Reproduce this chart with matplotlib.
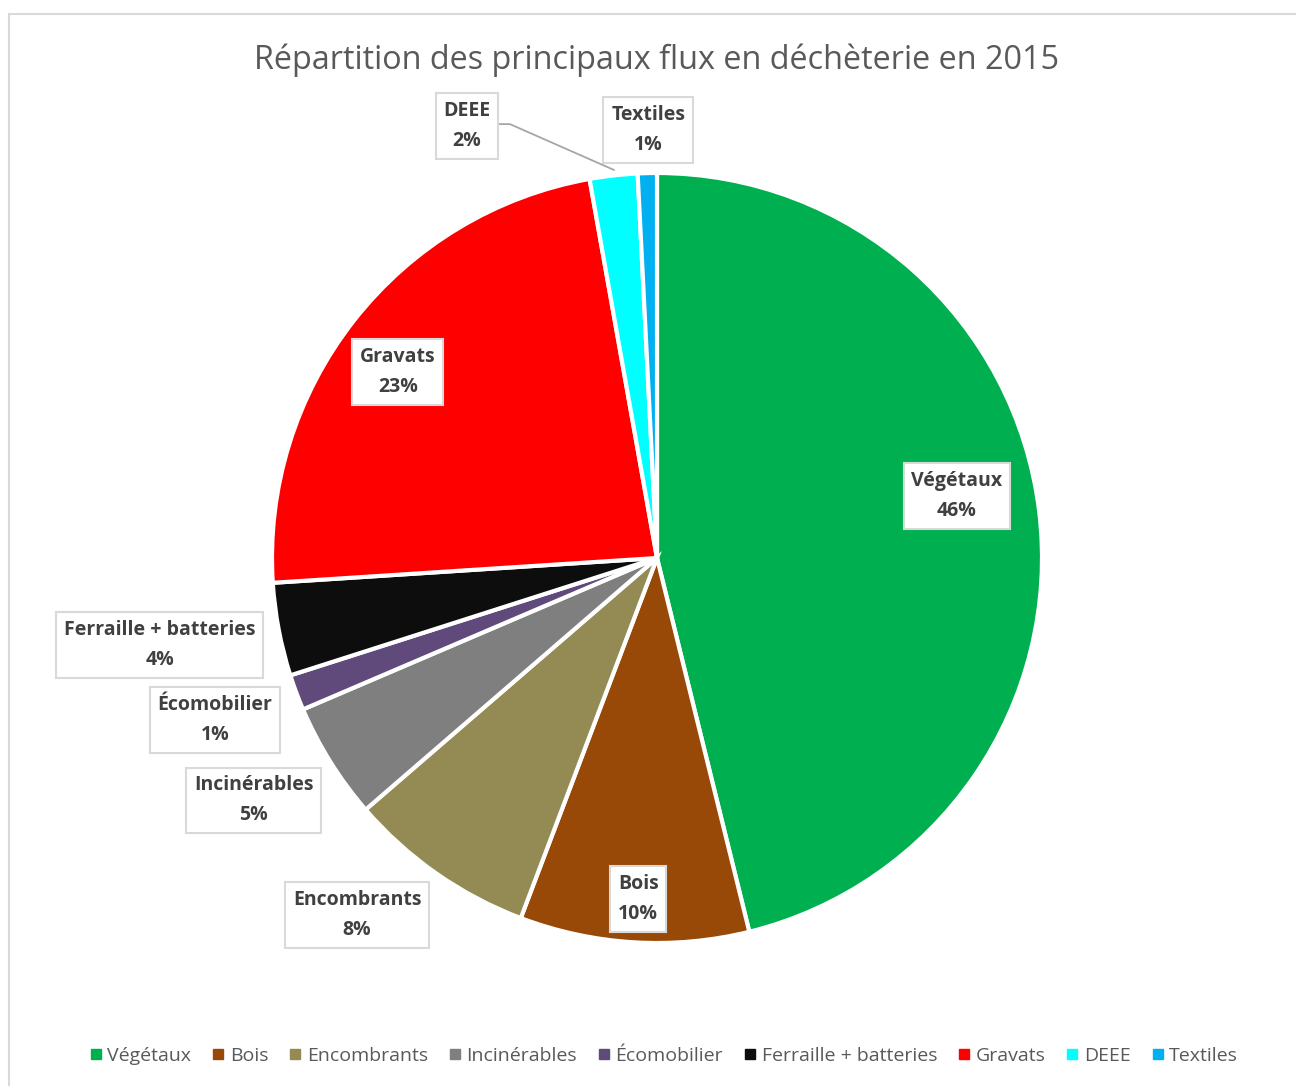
import matplotlib
matplotlib.use("Agg")
import matplotlib.pyplot as plt
from matplotlib.lines import Line2D
import numpy as np

plt.rcParams['font.family'] = ['Open Sans', 'DejaVu Sans']

categories = ["Végétaux", "Bois", "Encombrants", "Incinérables", "Écomobilier",
              "Ferraille + batteries", "Gravats", "DEEE", "Textiles"]
values = [46.1, 9.6, 7.9, 4.9, 1.5, 3.9, 23.2, 2.0, 0.8]
pct_labels = ["46%", "10%", "8%", "5%", "1%", "4%", "23%", "2%", "1%"]
colors = ["#00B050", "#984807", "#948A54", "#7F7F7F", "#604A7B",
          "#0D0D0D", "#FF0000", "#00FFFF", "#00B0F0"]

# label box centres (axes data units, pie radius = 1)
label_pos = [(0.779, 0.161), (-0.049, -0.886), (-0.779, -0.927), (-1.047, -0.629),
             (-1.148, -0.421), (-1.291, -0.226), (-0.673, 0.483), (-0.4935, 1.122),
             (-0.023, 1.112)]

fig = plt.figure(figsize=(12.96, 10.86), dpi=100)
fig.patch.set_facecolor("white")

# chart border
fig.add_artist(Line2D([9/1296, 9/1296], [0, 1 - 14/1086], transform=fig.transFigure,
                      color="#d9d9d9", lw=1.5))
fig.add_artist(Line2D([9/1296, 1], [1 - 14/1086, 1 - 14/1086], transform=fig.transFigure,
                      color="#d9d9d9", lw=1.5))

ax = fig.add_axes([272/1296, 143/1086, 770/1296, 770/1086])
wedges, _ = ax.pie(values, colors=colors, startangle=90, counterclock=False,
                   wedgeprops=dict(edgecolor="white", linewidth=3), radius=1)
ax.set_xlim(-1, 1)
ax.set_ylim(-1, 1)
ax.set_aspect("equal")
ax.axis("off")

for name, pct, (x, y) in zip(categories, pct_labels, label_pos):
    ax.text(x, y, f"{name}\n{pct}", ha="center", va="center", fontsize=14,
            fontweight="bold", color="#404040", linespacing=1.65, zorder=5,
            bbox=dict(boxstyle="square,pad=0.4", fc="white", ec="#d9d9d9", lw=1.5),
            clip_on=False)

# leader line for DEEE
ax.plot([-0.408, -0.382, -0.112], [1.127, 1.127, 1.008], color="#a6a6a6", lw=1.3,
        clip_on=False, zorder=4)

fig.text(657/1296, 1 - 60/1086, "Répartition des principaux flux en déchèterie en 2015",
         ha="center", va="center", fontsize=23.3, color="#595959")

handles = [Line2D([], [], marker="s", ls="", color=c, markersize=7) for c in colors]
fig.legend(handles, categories, loc="center", bbox_to_anchor=(662/1296, 1 - 1056/1086),
           ncol=9, frameon=False, fontsize=14, labelcolor="#595959",
           handletextpad=0.1, columnspacing=0.88, handlelength=1.0)

fig.savefig("out.png", dpi=100)
